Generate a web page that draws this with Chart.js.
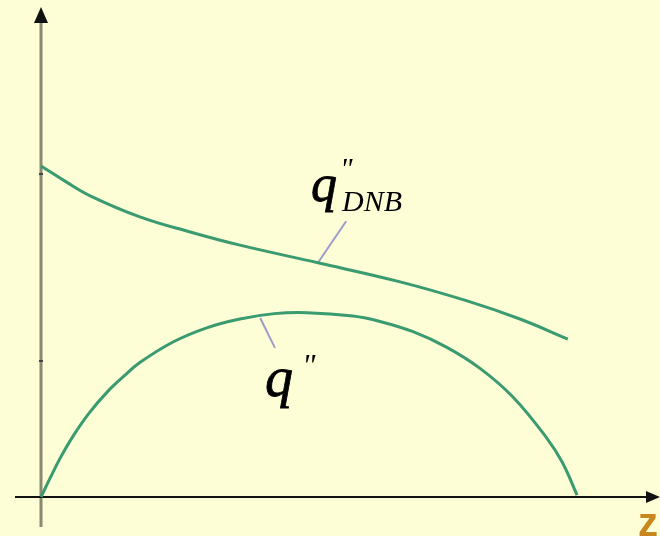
<!DOCTYPE html>
<html>
<head>
<meta charset="utf-8">
<script src="https://cdn.jsdelivr.net/npm/chart.js@4/dist/chart.umd.min.js"></script>
<style>
  body { margin: 0; background: #fdfdd6; }
  #wrap { width: 660px; height: 536px; }
</style>
</head>
<body>
<div id="wrap"><canvas id="myChart"></canvas></div>
<script>
// z positions and values (arbitrary units, 0..100 on both axes)
var dnbZ = [0, 3.9, 8.0, 16.1, 24.3, 32.4, 45.1, 58.5, 69.4, 78.0, 85.8];
var dnbQ = [67.7, 64.6, 61.6, 57.3, 54.2, 51.5, 47.9, 44.0, 40.1, 36.4, 32.3];

var fluxZ = [0, 1.5, 3.1, 5.2, 7.8, 10.8, 13.4, 16.1, 21.5, 27.0, 32.4, 38.0, 43.3, 50.8, 55.2, 60.6, 66.1, 71.5, 76.9, 82.4, 84.9, 87.3];
var fluxQ = [0, 3.9, 7.9, 12.4, 17.1, 21.5, 24.6, 27.5, 31.7, 34.6, 36.4, 37.5, 37.7, 37.0, 35.9, 33.8, 30.6, 26.3, 20.4, 12.0, 7.1, 0.4];

// leader lines from labels to curves
var dnbLeaderZ = [49.7, 45.1];
var dnbLeaderQ = [56.4, 47.9];
var fluxLeaderZ = [35.7, 38.1];
var fluxLeaderQ = [36.6, 30.5];

function toPoints(xs, ys) {
    return xs.map(function (x, i) { return { x: x, y: ys[i] }; });
}

var green = '#3a9a70';
var lilac = '#9c9ccc';

var axesPlugin = {
    id: 'axesPlugin',
    beforeDraw: function (chart) {
        var ctx = chart.ctx;
        ctx.save();
        ctx.fillStyle = '#fdfdd6';
        ctx.fillRect(0, 0, chart.width, chart.height);
        ctx.restore();
    },
    beforeDatasetsDraw: function (chart) {
        var ctx = chart.ctx;
        var x0 = chart.scales.x.getPixelForValue(0);
        var y0 = chart.scales.y.getPixelForValue(0);
        ctx.save();
        // vertical axis
        ctx.strokeStyle = '#8a8a72';
        ctx.lineWidth = 3;
        ctx.beginPath();
        ctx.moveTo(x0, 527);
        ctx.lineTo(x0, 20);
        ctx.stroke();
        ctx.fillStyle = '#111';
        ctx.beginPath();
        ctx.moveTo(x0, 7);
        ctx.lineTo(x0 - 7, 23);
        ctx.lineTo(x0 + 7, 23);
        ctx.closePath();
        ctx.fill();
        // small ticks on vertical axis
        ctx.fillStyle = '#444';
        ctx.fillRect(x0 - 2, 173, 4, 2);
        ctx.fillRect(x0 - 2, 360, 4, 2);
        // horizontal axis
        ctx.strokeStyle = '#111';
        ctx.lineWidth = 2;
        ctx.beginPath();
        ctx.moveTo(15, y0);
        ctx.lineTo(648, y0);
        ctx.stroke();
        ctx.fillStyle = '#111';
        ctx.beginPath();
        ctx.moveTo(660, y0);
        ctx.lineTo(646, y0 - 6);
        ctx.lineTo(646, y0 + 6);
        ctx.closePath();
        ctx.fill();
        ctx.restore();
    },
    afterDraw: function (chart) {
        var ctx = chart.ctx;
        ctx.save();
        ctx.fillStyle = '#000';
        ctx.strokeStyle = '#000';
        ctx.lineWidth = 0.8;
        ctx.textBaseline = 'alphabetic';
        // q''_DNB label
        ctx.font = 'italic 52px "Liberation Serif", serif';
        ctx.fillText('q', 311, 201);
        ctx.strokeText('q', 311, 201);
        ctx.font = 'italic 30px "Liberation Serif", serif';
        ctx.fillText('"', 340, 178);
        ctx.font = 'italic 30px "Liberation Serif", serif';
        ctx.fillText('DNB', 342, 211);
        // q'' label
        ctx.font = 'italic 56px "Liberation Serif", serif';
        ctx.fillText('q', 265, 396);
        ctx.strokeText('q', 265, 396);
        ctx.font = 'italic 32px "Liberation Serif", serif';
        ctx.fillText('"', 302, 376);
        // axis label
        ctx.fillStyle = '#c8861c';
        ctx.font = 'bold 40px "Liberation Sans", Arial, sans-serif';
        ctx.fillText('z', 638, 536);
        ctx.restore();
    }
};

var ctx = document.getElementById('myChart').getContext('2d');
var myChart = new Chart(ctx, {
    type: 'line',
    data: {
        datasets: [{
            data: toPoints(dnbZ, dnbQ),
            borderColor: green,
            borderWidth: 3,
            pointRadius: 0,
            tension: 0.4,
            clip: false
        }, {
            data: toPoints(fluxZ, fluxQ),
            borderColor: green,
            borderWidth: 3,
            pointRadius: 0,
            tension: 0.4,
            clip: false
        }, {
            data: toPoints(dnbLeaderZ, dnbLeaderQ),
            borderColor: lilac,
            borderWidth: 2,
            pointRadius: 0,
            clip: false
        }, {
            data: toPoints(fluxLeaderZ, fluxLeaderQ),
            borderColor: lilac,
            borderWidth: 2,
            pointRadius: 0,
            clip: false
        }]
    },
    options: {
        responsive: true,
        maintainAspectRatio: false,
        animation: false,
        layout: { padding: { left: 41, right: 5, top: 8, bottom: 39 } },
        plugins: {
            legend: { display: false },
            tooltip: { enabled: false }
        },
        scales: {
            x: { type: 'linear', min: 0, max: 100, display: false },
            y: { type: 'linear', min: 0, max: 100, display: false }
        }
    },
    plugins: [axesPlugin]
});
</script>
</body>
</html>
